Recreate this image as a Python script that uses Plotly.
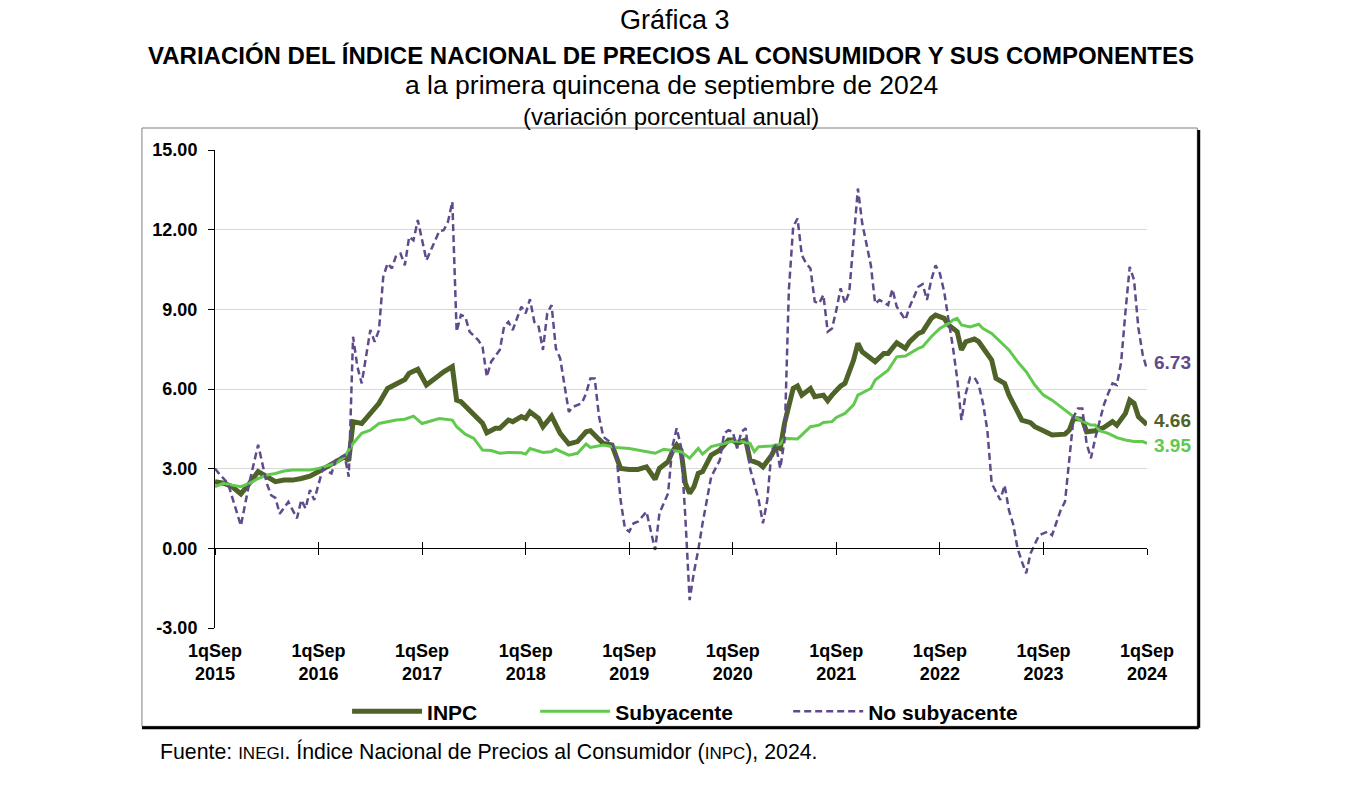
import plotly.graph_objects as go

# quincena index: 0 = 1qSep2015, 24 = 1qSep2016, ... 216 = 1qSep2024
inpc_q = [0, 2, 4, 6, 8, 10, 12, 14, 16, 18, 20, 22, 24, 26, 28, 30, 31, 32, 34, 36,
          38, 40, 42, 44, 45, 47, 49, 51, 53, 55, 56, 57, 59, 60, 62, 63, 65, 66, 68, 69,
          71, 72, 73, 75, 76, 78, 79, 80, 82, 84, 86, 87, 89, 90, 92, 94, 96, 98, 100, 102,
          103, 105, 106, 107, 108, 109, 110, 111, 112, 113, 115, 117, 119, 120, 121, 123, 124, 126, 127, 129,
          130, 131, 132, 134, 135, 136, 138, 139, 141, 142, 143, 145, 146, 148, 149, 150, 153, 155, 156, 158,
          160, 161, 163, 164, 166, 167, 169, 170, 172, 173, 174, 176, 177, 178, 180, 181, 183, 184, 186, 187,
          189, 190, 192, 194, 197, 198, 199, 201, 202, 204, 206, 207, 208, 209, 211, 212, 213, 214, 216]
inpc_v = [2.51, 2.45, 2.32, 2.05, 2.45, 2.89, 2.70, 2.51, 2.57, 2.57, 2.63, 2.72, 2.89, 3.07, 3.22, 3.45, 3.30, 4.77, 4.70, 5.08,
          5.46, 6.02, 6.21, 6.36, 6.59, 6.74, 6.15, 6.40, 6.65, 6.84, 5.58, 5.52, 5.21, 5.08, 4.71, 4.35, 4.52, 4.52, 4.83, 4.77,
          4.96, 4.89, 5.14, 4.89, 4.58, 4.98, 4.64, 4.33, 3.93, 4.02, 4.39, 4.43, 4.10, 3.95, 3.89, 3.01, 2.97, 2.97, 3.07, 2.60,
          3.01, 3.26, 3.64, 3.89, 3.70, 2.45, 2.07, 2.32, 2.82, 2.89, 3.51, 3.70, 4.08, 4.08, 3.95, 4.08, 3.32, 3.20, 3.07, 3.51,
          3.83, 3.76, 4.71, 6.02, 6.11, 5.77, 6.02, 5.71, 5.77, 5.56, 5.77, 6.11, 6.21, 7.09, 7.72, 7.40, 7.03, 7.34, 7.34, 7.74,
          7.53, 7.78, 8.09, 8.16, 8.66, 8.78, 8.66, 8.41, 8.16, 7.47, 7.78, 7.88, 7.78, 7.53, 7.09, 6.40, 6.21, 5.77, 5.14, 4.83,
          4.73, 4.58, 4.43, 4.27, 4.30, 4.45, 4.89, 4.86, 4.39, 4.43, 4.55, 4.64, 4.77, 4.64, 5.08, 5.58, 5.46, 4.96, 4.66]

sub_q = [0, 2, 4, 6, 8, 10, 12, 14, 16, 18, 20, 22, 24, 26, 28, 30, 32, 34, 36, 38,
         40, 42, 44, 46, 48, 50, 52, 55, 56, 58, 60, 62, 64, 66, 68, 71, 72, 73, 76, 78,
         79, 82, 84, 86, 87, 90, 93, 96, 100, 102, 104, 106, 108, 110, 112, 113, 115, 118, 120, 122,
         124, 125, 126, 129, 131, 132, 135, 136, 138, 140, 141, 143, 144, 146, 148, 149, 152, 153, 155, 156,
         157, 158, 160, 162, 163, 164, 166, 168, 170, 171, 172, 173, 175, 177, 178, 180, 182, 184, 186, 187,
         188, 190, 192, 194, 196, 197, 199, 201, 203, 204, 205, 207, 209, 211, 213, 215, 216]
sub_v = [2.32, 2.45, 2.38, 2.32, 2.45, 2.63, 2.76, 2.82, 2.91, 2.95, 2.95, 2.95, 3.01, 3.10, 3.20, 3.45, 3.95, 4.33, 4.45, 4.70,
         4.77, 4.83, 4.86, 4.98, 4.70, 4.79, 4.89, 4.83, 4.58, 4.30, 4.14, 3.70, 3.68, 3.58, 3.61, 3.60, 3.55, 3.76, 3.61, 3.64,
         3.73, 3.51, 3.58, 3.93, 3.80, 3.89, 3.80, 3.76, 3.64, 3.58, 3.73, 3.68, 3.64, 3.39, 3.76, 3.55, 3.83, 3.95, 4.04, 4.02,
         3.95, 3.64, 3.83, 3.85, 3.92, 4.14, 4.12, 4.27, 4.58, 4.64, 4.74, 4.77, 4.93, 5.08, 5.40, 5.77, 6.02, 6.34, 6.59, 6.71,
         6.96, 7.21, 7.24, 7.44, 7.53, 7.59, 7.97, 8.28, 8.47, 8.60, 8.66, 8.41, 8.34, 8.44, 8.28, 8.09, 7.78, 7.47, 7.03, 6.84,
         6.65, 6.15, 5.77, 5.58, 5.33, 5.23, 4.96, 4.79, 4.64, 4.64, 4.43, 4.33, 4.17, 4.08, 4.02, 4.02, 3.95]

nosub_q = [0, 1, 3, 6, 8, 10, 12, 13, 14, 15, 17, 19, 20, 21, 22, 23, 25, 27, 28, 30,
           31, 32, 33, 34, 36, 37, 38, 39, 40, 41, 42, 43, 44, 45, 46, 47, 49, 51, 52, 53,
           54, 55, 56, 57, 58, 59, 61, 62, 63, 64, 66, 67, 68, 69, 71, 72, 73, 74, 75, 76,
           77, 78, 79, 80, 81, 82, 83, 85, 86, 87, 88, 89, 90, 92, 93, 94, 95, 96, 97, 98,
           100, 101, 102, 103, 104, 105, 106, 107, 108, 109, 110, 111, 112, 113, 115, 116, 117, 118, 119, 120,
           121, 122, 123, 124, 126, 127, 128, 129, 130, 131, 132, 133, 134, 135, 136, 137, 138, 139, 140, 141,
           142, 143, 144, 145, 146, 147, 148, 149, 150, 152, 153, 154, 156, 157, 158, 160, 161, 163, 164, 165,
           166, 167, 168, 169, 170, 171, 172, 173, 174, 175, 176, 177, 178, 179, 180, 182, 183, 184, 185, 186,
           187, 188, 189, 191, 192, 193, 194, 196, 197, 198, 199, 200, 201, 202, 203, 204, 206, 207, 208, 209,
           210, 211, 212, 213, 214, 215, 216]
nosub_v = [3.01, 2.80, 2.45, 0.85, 2.50, 3.90, 2.45, 2.00, 1.90, 1.30, 1.75, 1.13, 1.82, 1.50, 2.20, 1.82, 3.00, 2.82, 3.32, 3.51,
           2.70, 7.97, 6.84, 6.21, 8.22, 7.78, 8.22, 10.23, 10.73, 10.54, 11.04, 11.10, 10.66, 11.73, 11.60, 12.36, 10.85, 11.60, 11.95, 11.98,
           12.30, 13.05, 8.16, 8.79, 8.72, 8.16, 7.84, 7.59, 6.46, 7.03, 7.47, 8.35, 8.53, 8.22, 9.10, 8.85, 9.38, 8.53, 8.35, 7.47,
           8.85, 9.16, 7.53, 7.15, 6.21, 5.14, 5.33, 5.46, 5.83, 6.40, 6.40, 4.96, 4.20, 3.95, 3.58, 1.82, 0.75, 0.63, 0.94, 1.00,
           1.38, 0.69, -0.06, 1.32, 1.69, 2.07, 3.83, 4.52, 3.83, 1.20, -1.95, -0.90, -0.06, 0.94, 2.70, 3.01, 3.32, 4.33, 4.45, 4.39,
           3.76, 4.39, 4.52, 3.01, 1.82, 0.94, 1.82, 3.70, 3.89, 3.01, 4.08, 9.73, 12.11, 12.42, 11.04, 10.73, 10.54, 9.29, 9.22, 9.54,
           8.16, 8.28, 8.97, 9.79, 9.22, 9.66, 11.61, 13.55, 12.24, 10.66, 9.22, 9.35, 9.16, 9.76, 9.10, 8.60, 9.10, 9.85, 9.95, 9.35,
           10.10, 10.66, 10.35, 9.66, 8.60, 7.60, 6.40, 4.83, 5.83, 6.43, 6.43, 6.15, 5.46, 4.45, 2.45, 1.82, 2.38, 1.44, 0.90, 0.00,
           -0.50, -0.94, -0.19, 0.50, 0.56, 0.63, 0.50, 1.44, 1.76, 3.32, 4.96, 5.27, 5.27, 3.95, 3.39, 4.14, 5.40, 5.83, 6.21, 6.15,
           7.00, 8.90, 10.60, 10.10, 8.30, 7.30, 6.73]

tick_q = [0, 24, 48, 72, 96, 120, 144, 168, 192, 216]
tick_text = ['1qSep<br>%d' % y for y in range(2015, 2025)]
y_ticks = [-3, 0, 3, 6, 9, 12, 15]
y_text = ['-3.00', '0.00', '3.00', '6.00', '9.00', '12.00', '15.00']

COLOR_INPC = '#4F6228'
COLOR_SUB = '#62C94F'
COLOR_NOSUB = '#5F4B8B'
FONT = 'Liberation Sans, Arial, sans-serif'

fig = go.Figure()
fig.add_trace(go.Scatter(x=inpc_q, y=inpc_v, mode='lines', name='INPC', legend='legend',
                         line=dict(color=COLOR_INPC, width=5), cliponaxis=False))
fig.add_trace(go.Scatter(x=sub_q, y=sub_v, mode='lines', name='Subyacente', legend='legend2',
                         line=dict(color=COLOR_SUB, width=3), cliponaxis=False))
fig.add_trace(go.Scatter(x=nosub_q, y=nosub_v, mode='lines', name='No subyacente', legend='legend3',
                         line=dict(color=COLOR_NOSUB, width=2.5, dash='7px,4px'), cliponaxis=False))
# empty traces so the axis drawn at y = 0 exists
for ax in ['x2', 'x3']:
    fig.add_trace(go.Scatter(x=[None], y=[None], xaxis=ax, showlegend=False, hoverinfo='skip'))

# last value labels
for q, v, c, dy in [(nosub_q[-1], nosub_v[-1], COLOR_NOSUB, 7),
                    (inpc_q[-1], inpc_v[-1], COLOR_INPC, 4),
                    (sub_q[-1], sub_v[-1], COLOR_SUB, -2)]:
    fig.add_annotation(x=q, y=v, text='%.2f' % v, showarrow=False, xanchor='left',
                       xshift=5, yshift=dy, font=dict(size=19, color=c, weight='bold'))

# titles
titles = [('Gráfica 3', 0.494, 1.2718, 27, 'normal'),
          ('VARIACIÓN DEL ÍNDICE NACIONAL DE PRECIOS AL CONSUMIDOR Y SUS COMPONENTES', 0.4894, 1.1986, 24, 'bold'),
          ('a la primera quincena de septiembre de 2024', 0.4894, 1.1359, 26.5, 'normal'),
          ('(variación porcentual anual)', 0.4894, 1.0711, 24, 'normal')]
for txt, xx, yy, size, weight in titles:
    fig.add_annotation(x=xx, y=yy, xref='paper', yref='paper', text=txt, showarrow=False,
                       xanchor='center', yanchor='middle', font=dict(size=size, weight=weight))

fig.add_annotation(x=-0.061, y=-0.2586, xref='paper', yref='paper', showarrow=False,
                   xanchor='left', yanchor='middle', font=dict(size=21.3),
                   text="Fuente: <span style='font-size:17px'>INEGI</span>. Índice Nacional de Precios "
                        "al Consumidor (<span style='font-size:17px'>INPC</span>), 2024.")

# frame with shadow
fig.add_shape(type='rect', xref='paper', yref='paper', x0=-0.0784, x1=1.054, y0=-0.2057, y1=1.046,
              line=dict(color='#808080', width=1))
fig.add_shape(type='line', xref='paper', yref='paper', x0=1.0555, x1=1.0555, y0=-0.2085, y1=1.042,
              line=dict(color='black', width=3))
fig.add_shape(type='line', xref='paper', yref='paper', x0=-0.0784, x1=1.0555, y0=-0.2085, y1=-0.2085,
              line=dict(color='black', width=3))

leg = dict(orientation='h', xanchor='left', y=-0.175, yanchor='middle', bgcolor='rgba(0,0,0,0)',
           font=dict(size=21, weight='bold'), itemwidth=70)

fig.update_layout(
    width=1358, height=800,
    margin=dict(l=215, r=211, t=150, b=172),
    paper_bgcolor='white', plot_bgcolor='white',
    font=dict(family=FONT, color='black'),
    legend=dict(leg, x=0.1417),
    legend2=dict(leg, x=0.3435),
    legend3=dict(leg, x=0.6150),
    xaxis=dict(range=[0, 216], tickvals=tick_q, ticktext=tick_text, ticks='', showgrid=False,
               zeroline=False, showline=False, ticklabelstandoff=10,
               tickfont=dict(size=18, weight='bold')),
    xaxis2=dict(overlaying='x', anchor='free', position=1 / 6, range=[0, 216], tickvals=tick_q,
                showticklabels=False, ticks='outside', ticklen=6, tickcolor='black', showline=True,
                linecolor='black', linewidth=1, showgrid=False, zeroline=False),
    xaxis3=dict(overlaying='x', anchor='free', position=1 / 6, range=[0, 216], tickvals=tick_q,
                showticklabels=False, ticks='inside', ticklen=6, tickcolor='black', showline=False,
                showgrid=False, zeroline=False),
    yaxis=dict(range=[-3, 15], tickvals=y_ticks, ticktext=y_text, showgrid=True, gridcolor='#D9D9D9',
               showline=True, linecolor='black', linewidth=1, ticks='outside', ticklen=6,
               tickcolor='black', zeroline=False, ticklabelstandoff=7,
               tickfont=dict(size=18, weight='bold')),
)

fig.write_html("out.html", post_script="document.body.style.margin='0';",
               config={'displayModeBar': False})
